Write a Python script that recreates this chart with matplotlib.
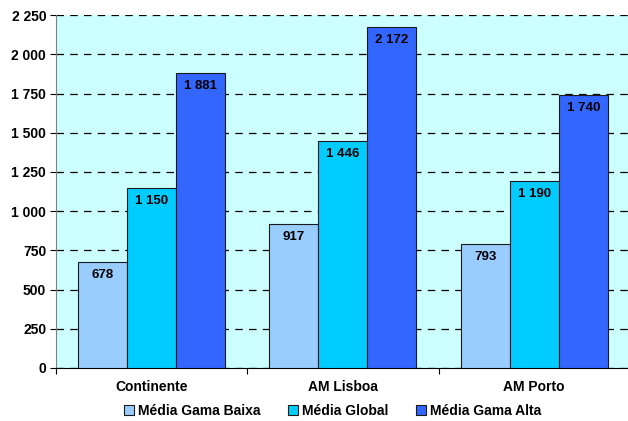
import matplotlib
matplotlib.use("Agg")
import matplotlib.pyplot as plt
import numpy as np

categories = ["Continente", "AM Lisboa", "AM Porto"]
series_names = ["Média Gama Baixa", "Média Global", "Média Gama Alta"]
baixa = [678, 917, 793]
glob = [1150, 1446, 1190]
alta = [1881, 2172, 1740]
values = [baixa, glob, alta]
colors = ["#99CCFF", "#00CCFF", "#3366FF"]

plt.rcParams["font.family"] = ["Liberation Sans", "DejaVu Sans"]
fig = plt.figure(figsize=(6.28, 4.21), dpi=100)
ax = fig.add_axes([0.089, 0.126, 0.914, 0.838])
ax.set_facecolor("#CCFFFF")

x = np.arange(len(categories))
w = 0.256
for i, (vals, c, name) in enumerate(zip(values, colors, series_names)):
    pos = x + (i - 1) * w
    bars = ax.bar(pos, vals, width=w, color=c, edgecolor="#1a1a1a", linewidth=0.8, label=name, zorder=3)
    for b, v in zip(bars, vals):
        ax.annotate(f"{v:,}".replace(",", " "), (b.get_x() + b.get_width() / 2, v),
                    xytext=(0, -5), textcoords="offset points", ha="center", va="top",
                    fontsize=9.5, fontweight="bold", zorder=4)

ax.set_xlim(-0.5, 2.5)
ax.set_ylim(0, 2250)
yt = np.arange(0, 2251, 250)
ax.set_yticks(yt)
ax.set_yticklabels([f"{v:,}".replace(",", " ") for v in yt], fontsize=10, fontweight="bold")
ax.yaxis.grid(True, linestyle=(0, (6, 5)), color="black", linewidth=0.9, zorder=1)
ax.set_axisbelow(True)

ax.set_xticks([-0.5, 0.5, 1.5, 2.5])
ax.set_xticklabels([])
ax.set_xticks(x, minor=True)
ax.set_xticklabels(categories, minor=True, fontsize=10, fontweight="bold")
ax.tick_params(axis="x", which="minor", length=0, pad=9)
ax.tick_params(axis="x", which="major", length=4, direction="out")
ax.tick_params(axis="y", length=4, direction="out", pad=3)

for s in ["top", "right"]:
    ax.spines[s].set_visible(False)
ax.spines["left"].set_color("#808080")
ax.spines["bottom"].set_color("black")

leg = fig.legend(*ax.get_legend_handles_labels(), loc="center", bbox_to_anchor=(0.53, 0.024), ncol=3,
                 frameon=False, prop={"weight": "bold", "size": 10}, handlelength=0.7, handleheight=0.7,
                 handletextpad=0.3, columnspacing=2.0, borderaxespad=0, borderpad=0)

fig.savefig("out.png", dpi=100)
